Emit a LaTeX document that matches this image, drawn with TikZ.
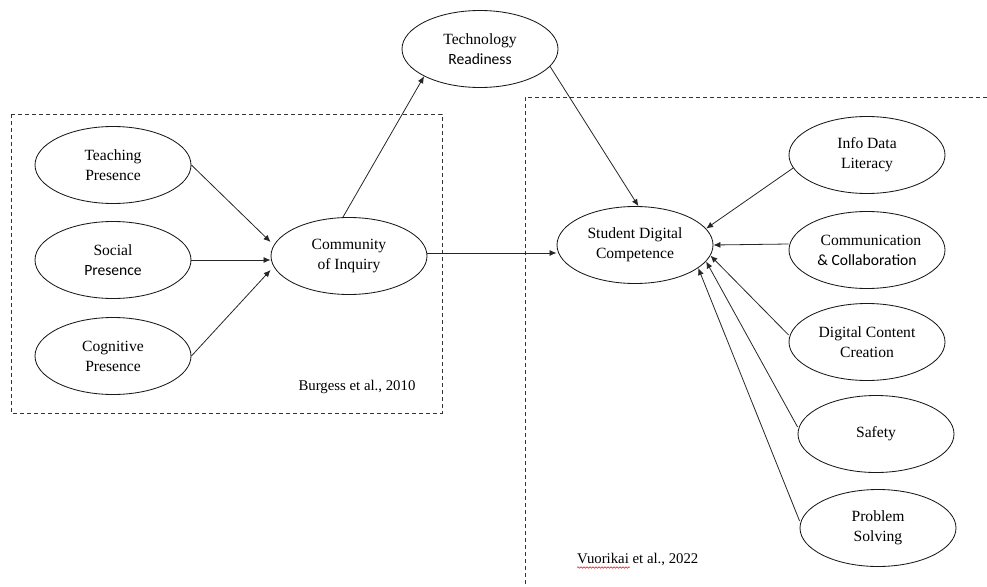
\documentclass[tikz,border=0pt]{standalone}
\usepackage{fontspec}
\setmainfont{Liberation Serif}
\newfontfamily\calib{Carlito}
\usetikzlibrary{shapes.geometric,arrows.meta,decorations.pathmorphing}
\tikzset{
  oval/.style={ellipse, draw=black!90, line width=0.85pt, minimum width=156pt, minimum height=77pt,
    inner sep=0pt, align=center, font=\fontsize{15.6}{20}\selectfont},
  conn/.style={draw=black!85, line width=0.8pt, -{Latex[length=7pt,width=6pt]}},
  dbox/.style={draw=black!80, line width=0.85pt, dash pattern=on 4pt off 3pt},
  cite/.style={font=\fontsize{14.8}{17}\selectfont, inner sep=0pt}
}
\begin{document}
\begin{tikzpicture}[x=1pt,y=-1pt]
\useasboundingbox (0,0) rectangle (987,586);
% dashed frames
\draw[dbox] (11,114) rectangle (442,413);
\draw[dbox] (987,97) -| (525,586);
% nodes
\node[oval] (tech) at (480,49) {Technology\\{\calib Readiness}};
\node[oval] (teach) at (113,165) {Teaching\\Presence};
\node[oval] (social) at (113,260) {Social\\{\calib Presence}};
\node[oval] (cog) at (113,356) {Cognitive\\Presence};
\node[oval] (coi) at (349,256) {Community\\of Inquiry};
\node[oval] (sdc) at (635,245) {Student Digital\\Competence};
\node[oval] (info) at (867,155) {Info Data\\Literacy};
\node[oval] (comm) at (867,250) {Communicatio\rlap{n}\\{\calib \& Collaboration}};
\node[oval] (dcc) at (867,342) {Digital Content\\Creation};
\node[oval] (safety) at (876,434) {Safety};
\node[oval] (ps) at (878,528) {Problem\\Solving};
\node[cite] (burg) at (357,387) {Burgess et al., 2010};
\node[cite, anchor=west] (vu) at (577,559) {Vuorikai et al., 2022};
\draw[red, line width=0.5pt, decorate, decoration={snake, segment length=3pt, amplitude=0.8pt}]
  ([yshift=-2pt]vu.south west) -- ([xshift=53pt,yshift=-2pt]vu.south west);
% connectors
\draw[conn] (teach.east) -- ([yshift=14pt]coi.west);
\draw[conn] (social.east) -- (social.east -| coi.west);
\draw[conn] (cog.east) -- ([yshift=-14pt]coi.west);
\draw[conn] ([xshift=-6pt]coi.north) -- (tech.206);
\draw[conn] (tech.-14) -- (sdc.85);
\draw[conn] ([yshift=3pt]coi.east) -- ([yshift=3pt]coi.east -| sdc.west);
\draw[conn] (info.190) -- (sdc.13);
\draw[conn] ([yshift=6pt]comm.west) -- (sdc.east);
\draw[conn] ([yshift=7pt]dcc.west) -- (sdc.-8);
\draw[conn] ([yshift=7pt]safety.west) -- (sdc.-13);
\draw[conn] ([yshift=7pt]ps.west) -- (sdc.-20);
\end{tikzpicture}
\end{document}
